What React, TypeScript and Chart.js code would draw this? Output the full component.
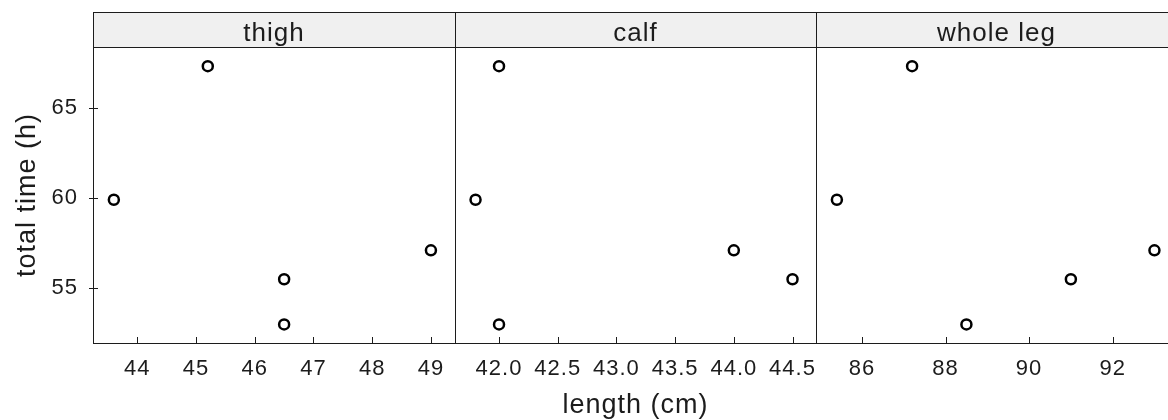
import React, { useEffect, useRef } from "react";
import { Chart, registerables } from "chart.js";
Chart.register(...registerables);

// ---- data ----
const panelLabels = ["thigh", "calf", "whole leg"];
const thighLength = [43.6, 45.2, 46.5, 46.5, 49.0];
const calfLength = [41.8, 42.0, 44.5, 42.0, 44.0];
const wholeLegLength = [85.4, 87.2, 91.0, 88.5, 93.0];
const totalTime = [59.9, 67.3, 55.5, 53.0, 57.1];

const thighTicks = [44, 45, 46, 47, 48, 49];
const calfTicks = [42.0, 42.5, 43.0, 43.5, 44.0, 44.5];
const wholeLegTicks = [86, 88, 90, 92];
const timeTicks = [55, 60, 65];

const thighRange = [43.245, 49.41];
const calfRange = [41.625, 44.7];
const wholeLegRange = [84.9, 93.54];
const timeRange = [51.97, 68.36];

const xTitle = "length (cm)";
const yTitle = "total time (h)";

// ---- layout ----
const W = 1200;
const H = 420;
const STRIP_TOP = 12;
const PLOT_TOP = 47;
const PLOT_BOTTOM = 343;
const LEFTS = [93, 455, 816];
const RIGHTS = [455, 816, 1177];
const FONT = '"Liberation Sans", Arial, Helvetica, sans-serif';
const INK = "#1c1c1c";
const SPACING = "1px";

const setSpacing = (chart: any) => {
  try {
    chart.ctx.letterSpacing = SPACING;
  } catch (e) {}
};

const framePlugin = {
  id: "latticeFrame",
  beforeInit: setSpacing,
  beforeUpdate: setSpacing,
  beforeLayout: setSpacing,
  beforeDraw: setSpacing,
  afterDraw(chart: any, _args: any, opts: any) {
    const { ctx, chartArea } = chart;
    const { left, right, top, bottom } = chartArea;
    ctx.save();
    // strip
    ctx.fillStyle = "#f0f0f0";
    ctx.fillRect(left, STRIP_TOP, right - left, top - STRIP_TOP);
    ctx.strokeStyle = INK;
    ctx.lineWidth = 1;
    ctx.strokeRect(left + 0.5, STRIP_TOP + 0.5, right - left, top - STRIP_TOP);
    ctx.strokeRect(left + 0.5, top + 0.5, right - left, bottom - top);
    ctx.fillStyle = INK;
    ctx.font = `26px ${FONT}`;
    ctx.textAlign = "center";
    ctx.textBaseline = "alphabetic";
    ctx.fillText(opts.label, (left + right) / 2, 41);
    // inward x tick marks
    const xs = chart.scales.x;
    ctx.beginPath();
    xs.ticks.forEach((t: any) => {
      const px = Math.round(xs.getPixelForValue(t.value)) + 0.5;
      ctx.moveTo(px, bottom + 0.5);
      ctx.lineTo(px, bottom - 6);
    });
    if (opts.yTicks) {
      const ys = chart.scales.y;
      ys.ticks.forEach((t: any) => {
        const py = Math.round(ys.getPixelForValue(t.value)) + 0.5;
        ctx.moveTo(left - 4, py);
        ctx.lineTo(left + 5, py);
      });
    }
    ctx.stroke();
    ctx.restore();
  },
};

function makeConfig(
  i: number,
  xs: number[],
  ticks: number[],
  range: number[],
  decimals: number
) {
  const first = i === 0;
  return {
    type: "scatter",
    data: {
      datasets: [
        {
          data: xs.map((x, k) => ({ x, y: totalTime[k] })),
          pointStyle: "circle",
          pointRadius: 5,
          pointBorderWidth: 2.5,
          pointBorderColor: "#000",
          pointBackgroundColor: "rgba(255,255,255,0)",
        },
      ],
    },
    options: {
      responsive: false,
      animation: false,
      events: [],
      layout: {
        padding: {
          top: PLOT_TOP,
          bottom: 0,
          left: first ? 0 : LEFTS[i],
          right: W - RIGHTS[i],
        },
      },
      plugins: {
        legend: { display: false },
        tooltip: { enabled: false },
        latticeFrame: { label: panelLabels[i], yTicks: first },
      },
      scales: {
        x: {
          type: "linear",
          position: "bottom",
          min: range[0],
          max: range[1],
          grid: { display: false, drawTicks: false },
          border: { display: false },
          afterBuildTicks: (s: any) => {
            s.ticks = ticks.map((v) => ({ value: v }));
          },
          afterFit: (s: any) => {
            s.height = H - PLOT_BOTTOM;
          },
          ticks: {
            color: INK,
            padding: 13,
            maxRotation: 0,
            autoSkip: false,
            font: { family: FONT, size: 22 },
            callback: (v: any) => Number(v).toFixed(decimals),
          },
          title: {
            display: i === 1,
            text: xTitle,
            color: INK,
            font: { family: FONT, size: 27 },
            padding: { top: 0, bottom: -2 },
          },
        },
        y: {
          type: "linear",
          position: "left",
          display: first,
          min: timeRange[0],
          max: timeRange[1],
          grid: { display: false, drawTicks: false },
          border: { display: false },
          afterBuildTicks: (s: any) => {
            s.ticks = timeTicks.map((v) => ({ value: v }));
          },
          afterFit: (s: any) => {
            s.width = first ? LEFTS[0] : 0;
          },
          ticks: {
            color: INK,
            padding: 15,
            font: { family: FONT, size: 22 },
          },
          title: {
            display: first,
            text: yTitle,
            color: INK,
            font: { family: FONT, size: 27 },
            padding: { top: 11, bottom: 0 },
          },
        },
      },
    },
    plugins: [framePlugin],
  } as any;
}

export default function App() {
  const r0 = useRef<HTMLCanvasElement>(null);
  const r1 = useRef<HTMLCanvasElement>(null);
  const r2 = useRef<HTMLCanvasElement>(null);
  const refs = [r0, r1, r2];

  useEffect(() => {
    const configs = [
      makeConfig(0, thighLength, thighTicks, thighRange, 0),
      makeConfig(1, calfLength, calfTicks, calfRange, 1),
      makeConfig(2, wholeLegLength, wholeLegTicks, wholeLegRange, 0),
    ];
    const charts = configs.map((cfg, i) => new Chart(refs[i].current as HTMLCanvasElement, cfg));
    return () => charts.forEach((c) => c.destroy());
  }, []);

  return (
    <div
      style={{
        position: "absolute",
        left: 0,
        top: 0,
        width: 1168,
        height: 420,
        overflow: "hidden",
        background: "#fff",
      }}
    >
      {refs.map((r, i) => (
        <canvas
          key={i}
          ref={r}
          width={W}
          height={H}
          style={{ position: "absolute", left: 0, top: 0, width: W, height: H }}
        />
      ))}
    </div>
  );
}
